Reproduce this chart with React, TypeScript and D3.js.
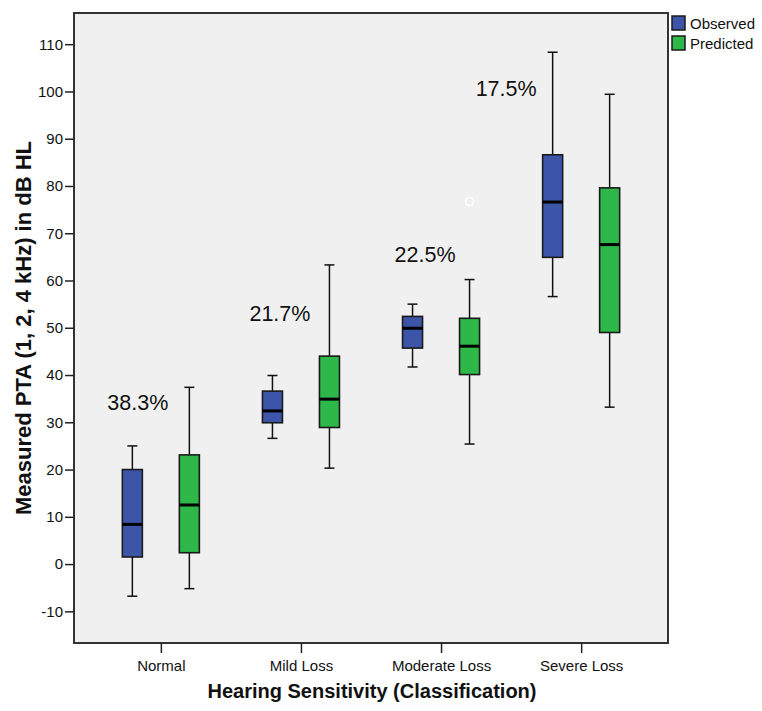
import React, { useEffect, useRef } from 'react'
import * as d3 from 'd3'

const categories = ['Normal', 'Mild Loss', 'Moderate Loss', 'Severe Loss']
const groups = ['Observed', 'Predicted']

// [whiskerLow, q1, median, q3, whiskerHigh]
const observed = [
  [-6.8, 1.5, 8.4, 20.0, 25.0],
  [26.6, 29.9, 32.4, 36.6, 39.9],
  [41.7, 45.7, 49.9, 52.4, 55.0],
  [56.6, 64.9, 76.6, 86.6, 108.3],
]
const predicted = [
  [-5.2, 2.4, 12.5, 23.1, 37.4],
  [20.3, 28.9, 34.9, 44.0, 63.3],
  [25.4, 40.1, 46.1, 52.0, 60.2],
  [33.2, 49.0, 67.6, 79.6, 99.4],
]
const outliers = [{ cat: 'Moderate Loss', group: 'Predicted', value: 76.7 }]

const pctLabels = ['38.3%', '21.7%', '22.5%', '17.5%']
const pctLabelValue = [32.6, 51.5, 63.9, 99.0]
const pctLabelShift = [-23, -21, -16, -75]

const yTicks = [-10, 0, 10, 20, 30, 40, 50, 60, 70, 80, 90, 100, 110]

const colors = { Observed: '#3c55a8', Predicted: '#2fb84a' }

const App = () => {
  const ref = useRef<SVGSVGElement>(null)

  useEffect(() => {
    const W = 762
    const H = 711
    const left = 74
    const right = 668
    const top = 13
    const bottom = 643

    const svg = d3.select(ref.current).attr('width', W).attr('height', H)
    svg.selectAll('*').remove()

    const font = 'Arial, "Liberation Sans", sans-serif'

    const x = d3.scalePoint().domain(categories).range([left, right]).padding(0.62)
    const xs = d3.scalePoint().domain(groups).range([-28.5, 28.5])
    const y = d3.scaleLinear().domain([-16.7, 116.6]).range([bottom, top])

    svg
      .append('rect')
      .attr('x', left)
      .attr('y', top)
      .attr('width', right - left)
      .attr('height', bottom - top)
      .attr('fill', '#f0f0f0')
      .attr('stroke', '#333')
      .attr('stroke-width', 2)

    // Y axis
    const yAxis = svg
      .append('g')
      .attr('transform', `translate(${left},0)`)
      .call(
        d3
          .axisLeft(y)
          .tickValues(yTicks)
          .tickFormat((d) => String(d))
          .tickSize(9)
          .tickSizeOuter(0)
          .tickPadding(2)
      )
    yAxis.select('.domain').remove()
    yAxis.selectAll('line').attr('stroke', '#222').attr('stroke-width', 1.5)
    yAxis.selectAll('text').attr('font-family', font).attr('font-size', 15).attr('fill', '#111')

    // X axis
    const xAxis = svg
      .append('g')
      .attr('transform', `translate(0,${bottom})`)
      .call(d3.axisBottom(x).tickSize(10).tickSizeOuter(0).tickPadding(7))
    xAxis.select('.domain').remove()
    xAxis.selectAll('line').attr('stroke', '#222').attr('stroke-width', 1.5)
    xAxis.selectAll('text').attr('font-family', font).attr('font-size', 15).attr('fill', '#111')

    const series = [
      { key: 'Observed', values: observed },
      { key: 'Predicted', values: predicted },
    ]
    const boxW = 20
    const capW = 10

    series.forEach((s) => {
      const g = svg.append('g')
      s.values.forEach((v, i) => {
        const cx = (x(categories[i]) as number) + (xs(s.key) as number)
        const [lo, q1, med, q3, hi] = v
        g.append('line')
          .attr('x1', cx).attr('x2', cx).attr('y1', y(hi)).attr('y2', y(q3))
          .attr('stroke', '#111').attr('stroke-width', 1.5)
        g.append('line')
          .attr('x1', cx).attr('x2', cx).attr('y1', y(q1)).attr('y2', y(lo))
          .attr('stroke', '#111').attr('stroke-width', 1.5)
        ;[lo, hi].forEach((w) => {
          g.append('line')
            .attr('x1', cx - capW / 2).attr('x2', cx + capW / 2).attr('y1', y(w)).attr('y2', y(w))
            .attr('stroke', '#111').attr('stroke-width', 1.5)
        })
        g.append('rect')
          .attr('x', cx - boxW / 2)
          .attr('y', y(q3))
          .attr('width', boxW)
          .attr('height', y(q1) - y(q3))
          .attr('fill', colors[s.key])
          .attr('stroke', '#1a1a1a')
          .attr('stroke-width', 1.6)
        g.append('line')
          .attr('x1', cx - boxW / 2).attr('x2', cx + boxW / 2).attr('y1', y(med)).attr('y2', y(med))
          .attr('stroke', '#000').attr('stroke-width', 3)
      })
    })

    svg
      .selectAll('circle.out')
      .data(outliers)
      .join('circle')
      .attr('class', 'out')
      .attr('cx', (d) => (x(d.cat) as number) + (xs(d.group) as number))
      .attr('cy', (d) => y(d.value))
      .attr('r', 4)
      .attr('fill', 'none')
      .attr('stroke', '#fff')
      .attr('stroke-width', 1.5)

    // percentage annotations
    svg
      .selectAll('text.pct')
      .data(pctLabels)
      .join('text')
      .attr('class', 'pct')
      .attr('x', (d, i) => (x(categories[i]) as number) + pctLabelShift[i])
      .attr('y', (d, i) => y(pctLabelValue[i]))
      .attr('text-anchor', 'middle')
      .attr('font-family', font)
      .attr('font-size', 21.5)
      .attr('fill', '#111')
      .text((d) => d)

    // axis titles
    svg
      .append('text')
      .attr('x', 372)
      .attr('y', 698)
      .attr('text-anchor', 'middle')
      .attr('font-family', font)
      .attr('font-weight', 'bold')
      .attr('font-size', 20)
      .attr('fill', '#111')
      .text('Hearing Sensitivity (Classification)')

    svg
      .append('text')
      .attr('transform', 'translate(31,328) rotate(-90)')
      .attr('text-anchor', 'middle')
      .attr('font-family', font)
      .attr('font-weight', 'bold')
      .attr('font-size', 22)
      .attr('fill', '#111')
      .text('Measured PTA (1, 2, 4 kHz) in dB HL')

    // legend
    const legend = svg
      .append('g')
      .selectAll('g')
      .data(groups)
      .join('g')
      .attr('transform', (d, i) => `translate(672,${16 + i * 20})`)
    legend
      .append('rect')
      .attr('width', 13)
      .attr('height', 14)
      .attr('fill', (d) => colors[d])
      .attr('stroke', '#1a1a1a')
      .attr('stroke-width', 1.5)
    legend
      .append('text')
      .attr('x', 18)
      .attr('y', 13)
      .attr('font-family', font)
      .attr('font-size', 15)
      .attr('fill', '#111')
      .text((d) => d)
  }, [])

  return <svg ref={ref} style={{ position: 'absolute', left: 0, top: 0 }}></svg>
}

export default App
